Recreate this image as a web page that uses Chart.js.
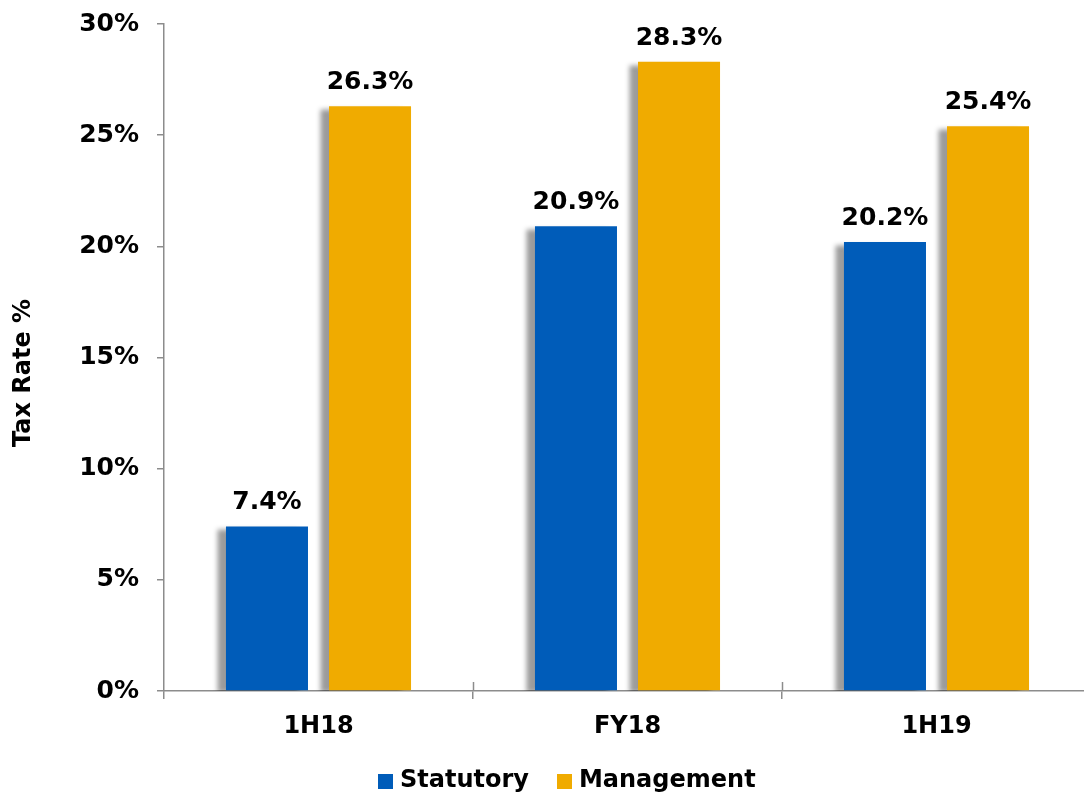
<!DOCTYPE html>
<html>
<head>
<meta charset="utf-8">
<script src="https://cdn.jsdelivr.net/npm/chart.js@4/dist/chart.umd.min.js"></script>
<style>
  html, body { margin: 0; padding: 0; background: #fff; overflow: hidden; }
  #wrap { position: relative; width: 1092px; height: 794px; }
  #legend { position: absolute; left: 378px; top: 765px; display: flex; align-items: center;
            font-family: "DejaVu Sans", Verdana, sans-serif; font-weight: bold; font-size: 24px; color: #000; }
  #legend .item { display: flex; align-items: center; margin-right: 28px; }
  #legend .box { width: 15px; height: 15px; margin-right: 7px; margin-top: 4px; }
</style>
</head>
<body>
<div id="wrap">
  <canvas id="c" width="1092" height="794"></canvas>
  <div id="legend"></div>
</div>
<script>
// Tax rates by period
const categories = ['1H18', 'FY18', '1H19'];
const statutory = [7.4, 20.9, 20.2];
const management = [26.3, 28.3, 25.4];
const seriesNames = ['Statutory', 'Management'];
const seriesColors = ['#005CB9', '#F0AB00'];
const yTicks = [0, 5, 10, 15, 20, 25, 30];
const yTitle = 'Tax Rate %';

const FONT = '"DejaVu Sans", Verdana, sans-serif';

// Soft grey shadow cast to the left of each bar
const barShadow = {
  id: 'barShadow',
  beforeDatasetsDraw(chart) {
    const ctx = chart.ctx;
    ctx.save();
    ctx.shadowColor = 'rgba(0,0,0,0.4)';
    ctx.shadowBlur = 5;
    ctx.shadowOffsetX = -9;
    ctx.shadowOffsetY = 3;
  },
  afterDatasetsDraw(chart) {
    chart.ctx.restore();
  }
};

// Value labels above each bar
const valueLabels = {
  id: 'valueLabels',
  afterDatasetsDraw(chart) {
    const ctx = chart.ctx;
    ctx.save();
    ctx.font = 'bold 25px ' + FONT;
    ctx.fillStyle = '#000';
    ctx.textAlign = 'center';
    ctx.textBaseline = 'alphabetic';
    chart.data.datasets.forEach((ds, di) => {
      chart.getDatasetMeta(di).data.forEach((bar, i) => {
        ctx.fillText(ds.data[i].toFixed(1) + '%', bar.x, bar.y - 17);
      });
    });
    ctx.restore();
  }
};

// Category tick marks crossing the x axis line, and the rotated y-axis title
const axisExtras = {
  id: 'axisExtras',
  afterDraw(chart) {
    const xs = chart.scales.x;
    const ctx = chart.ctx;
    const step = xs.getPixelForValue(1) - xs.getPixelForValue(0);
    const y = chart.chartArea.bottom;
    ctx.save();
    ctx.strokeStyle = '#8c8c8c';
    ctx.lineWidth = 1.5;
    for (let i = 1; i < categories.length; i++) {
      const x = Math.round(xs.getPixelForValue(i) - step / 2) + 0.5;
      ctx.beginPath();
      ctx.moveTo(x, y - 9);
      ctx.lineTo(x, y);
      ctx.stroke();
    }
    ctx.translate(24, 373);
    ctx.rotate(-Math.PI / 2);
    ctx.font = 'bold 24px ' + FONT;
    ctx.fillStyle = '#000';
    ctx.textAlign = 'center';
    ctx.textBaseline = 'middle';
    ctx.fillText(yTitle, 0, 0);
    ctx.restore();
  }
};

new Chart(document.getElementById('c'), {
  type: 'bar',
  data: {
    labels: categories,
    datasets: [
      { label: seriesNames[0], data: statutory, backgroundColor: seriesColors[0] },
      { label: seriesNames[1], data: management, backgroundColor: seriesColors[1] }
    ]
  },
  options: {
    responsive: false,
    animation: false,
    devicePixelRatio: 1,
    layout: { padding: { top: 24, right: 1, left: 0, bottom: 0 } },
    datasets: { bar: { categoryPercentage: 0.667, barPercentage: 0.796 } },
    plugins: { legend: { display: false }, tooltip: { enabled: false } },
    scales: {
      x: {
        grid: { display: true, drawOnChartArea: false, offset: true, tickLength: 8,
                color: '#8c8c8c', lineWidth: 1.5 },
        border: { display: true, color: '#8c8c8c', width: 1.5 },
        ticks: { font: { family: FONT, weight: 'bold', size: 24 }, color: '#000', padding: 13 },
        afterFit(scale) { scale.height = 103; }
      },
      y: {
        min: 0, max: 30,
        afterBuildTicks(scale) { scale.ticks = yTicks.map(v => ({ value: v })); },
        grid: { drawOnChartArea: false, tickLength: 7, color: '#8c8c8c', lineWidth: 1.5 },
        border: { display: true, color: '#8c8c8c', width: 1.5 },
        ticks: { font: { family: FONT, weight: 'bold', size: 25 }, color: '#000', padding: 18,
                 callback: v => v + '%' },
        afterFit(scale) {
          scale.width = 164;
          scale.paddingTop = 0;
          scale.paddingBottom = 0;
        }
      }
    }
  },
  plugins: [barShadow, valueLabels, axisExtras]
});

// Legend
const legend = document.getElementById('legend');
seriesNames.forEach((name, i) => {
  const item = document.createElement('div');
  item.className = 'item';
  const box = document.createElement('span');
  box.className = 'box';
  box.style.background = seriesColors[i];
  const txt = document.createElement('span');
  txt.textContent = name;
  item.appendChild(box);
  item.appendChild(txt);
  legend.appendChild(item);
});
</script>
</body>
</html>
